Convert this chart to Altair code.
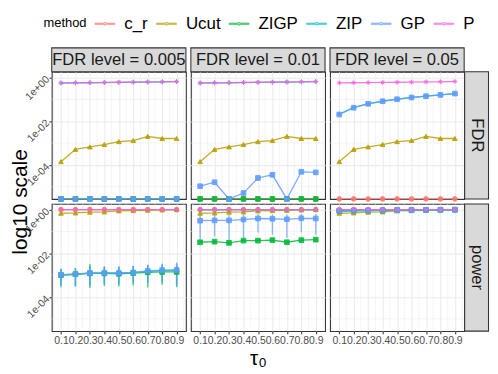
import altair as alt
import pandas as pd

# ---------------- data ----------------
taus = [0.1, 0.2, 0.3, 0.4, 0.5, 0.6, 0.7, 0.8, 0.9]
methods = ["c_r", "Ucut", "ZIGP", "ZIP", "GP", "P"]
colors = ["#F8766D", "#B79F00", "#00BA38", "#00BFC4", "#619CFF", "#F564E3"]
levels = ["FDR level = 0.005", "FDR level = 0.01", "FDR level = 0.05"]
metrics = ["FDR", "power"]
legend_title = "method"

# axis breaks
y_major = [1.0, 1e-2, 1e-4]
y_minor = [1e-1, 1e-3, 1e-5]
x_minor = [0.05, 0.15, 0.25, 0.35, 0.45, 0.55, 0.65, 0.75, 0.85, 0.95]

# FDR row
zeros = [0, 0, 0, 0, 0, 0, 0, 0, 0]
fdr_P = [0.56, 0.57, 0.58, 0.59, 0.60, 0.61, 0.62, 0.63, 0.65]
fdr_ZIP = [0.55, 0.56, 0.57, 0.58, 0.59, 0.60, 0.61, 0.62, 0.64]
fdr_Ucut = [1.4e-4, 5.1e-4, 6.6e-4, 8.5e-4, 1.15e-3, 1.29e-3, 2.0e-3, 1.6e-3, 1.6e-3]
fdr_GP_001 = [1.05e-5, 1.6e-5, 0, 5.1e-6, 2.5e-5, 3.5e-5, 0, 4.8e-5, 4.5e-5]
fdr_GP_005 = [0.020, 0.041, 0.062, 0.081, 0.100, 0.120, 0.138, 0.158, 0.182]
fdr_ZIP_005 = [0.021, 0.042, 0.063, 0.082, 0.101, 0.121, 0.139, 0.159, 0.183]

# power row
pow_P = [1.0, 1.0, 1.0, 1.0, 1.0, 1.0, 1.0, 1.0, 1.0]
pow_c_r = [0.995, 0.995, 0.996, 0.997, 0.998, 0.998, 0.999, 0.999, 1.0]
pow_Ucut = [0.68, 0.70, 0.76, 0.78, 0.87, 0.90, 0.93, 0.97, 1.0]
pow_GP_0005 = [1.05e-3, 1.12e-3, 1.26e-3, 1.26e-3, 1.26e-3, 1.32e-3, 1.58e-3, 1.70e-3, 1.74e-3]
pow_GP_0005_lo = [3.4e-4, 3.1e-4, 3.6e-4, 3.8e-4, 4.0e-4, 4.2e-4, 4.6e-4, 5.0e-4, 3.2e-4]
pow_GP_0005_hi = [2.0e-3, 2.2e-3, 2.6e-3, 2.5e-3, 2.6e-3, 2.7e-3, 3.0e-3, 3.4e-3, 3.8e-3]
pow_ZIP_0005 = [1.02e-3, 1.10e-3, 1.24e-3, 1.25e-3, 1.22e-3, 1.30e-3, 1.50e-3, 1.62e-3, 1.66e-3]
pow_ZIP_0005_lo = [3.6e-4, 3.4e-4, 3.3e-4, 4.0e-4, 3.8e-4, 4.0e-4, 4.4e-4, 4.6e-4, 3.6e-4]
pow_ZIP_0005_hi = [1.9e-3, 2.1e-3, 2.7e-3, 2.4e-3, 2.4e-3, 2.6e-3, 2.9e-3, 3.1e-3, 3.4e-3]
pow_ZIGP_0005 = [1.0e-3, 1.1e-3, 1.2e-3, 1.2e-3, 1.15e-3, 1.25e-3, 1.35e-3, 1.4e-3, 1.4e-3]
pow_ZIGP_0005_lo = [2.8e-4, 3.0e-4, 2.6e-4, 3.2e-4, 3.0e-4, 3.4e-4, 2.8e-4, 3.6e-4, 2.8e-4]
pow_ZIGP_0005_hi = [1.9e-3, 2.0e-3, 3.2e-3, 2.4e-3, 2.3e-3, 2.6e-3, 2.8e-3, 3.0e-3, 2.6e-3]
pow_GP_001 = [0.31, 0.32, 0.32, 0.35, 0.39, 0.38, 0.36, 0.40, 0.39]
pow_GP_001_lo = [0.045, 0.06, 0.035, 0.05, 0.09, 0.07, 0.05, 0.09, 0.07]
pow_GP_001_hi = [0.56, 0.56, 0.57, 0.59, 0.62, 0.61, 0.60, 0.63, 0.62]
pow_ZIGP_001 = [0.032, 0.034, 0.030, 0.038, 0.038, 0.040, 0.032, 0.040, 0.042]
pow_ZIP_001 = [0.98, 0.98, 0.985, 0.985, 0.99, 0.99, 0.99, 0.995, 0.995]
pow_GP_005 = [0.87, 0.89, 0.91, 0.93, 0.95, 0.96, 0.97, 0.98, 0.99]
pow_ZIP_005 = [0.88, 0.90, 0.92, 0.94, 0.95, 0.96, 0.97, 0.98, 0.99]
pow_ZIGP_005 = [0.86, 0.88, 0.90, 0.92, 0.94, 0.95, 0.96, 0.97, 0.98]

series = {
    ("FDR", 0): {"c_r": zeros, "Ucut": fdr_Ucut, "ZIGP": zeros, "ZIP": fdr_ZIP, "GP": zeros, "P": fdr_P},
    ("FDR", 1): {"c_r": zeros, "Ucut": fdr_Ucut, "ZIGP": zeros, "ZIP": fdr_ZIP, "GP": fdr_GP_001, "P": fdr_P},
    ("FDR", 2): {"c_r": zeros, "Ucut": fdr_Ucut, "ZIP": fdr_ZIP_005, "GP": fdr_GP_005, "P": fdr_P},
    ("power", 0): {"c_r": pow_c_r, "Ucut": pow_Ucut, "ZIGP": pow_ZIGP_0005, "ZIP": pow_ZIP_0005, "GP": pow_GP_0005, "P": pow_P},
    ("power", 1): {"c_r": pow_c_r, "Ucut": pow_Ucut, "ZIGP": pow_ZIGP_001, "ZIP": pow_ZIP_001, "GP": pow_GP_001, "P": pow_P},
    ("power", 2): {"c_r": pow_c_r, "Ucut": pow_Ucut, "ZIGP": pow_ZIGP_005, "ZIP": pow_ZIP_005, "GP": pow_GP_005, "P": pow_P},
}
errors = {
    ("power", 0, "ZIGP"): (pow_ZIGP_0005_lo, pow_ZIGP_0005_hi),
    ("power", 0, "ZIP"): (pow_ZIP_0005_lo, pow_ZIP_0005_hi),
    ("power", 0, "GP"): (pow_GP_0005_lo, pow_GP_0005_hi),
    ("power", 1, "GP"): (pow_GP_001_lo, pow_GP_001_hi),
}

# ---------------- tables ----------------
Y_MIN, Y_MAX = 2.75e-6, 1.816
W, H = 135, 128

rows, erows = [], []
for (metric, li), d in series.items():
    for mi, m in enumerate(methods):
        if m not in d:
            continue
        for t, v in zip(taus, d[m]):
            rows.append(dict(metric=metric, level=levels[li], method=m, order=mi,
                             tau=t, value=v, plot=max(v, Y_MIN)))
for (metric, li, m), (lo, hi) in errors.items():
    for t, a, b in zip(taus, lo, hi):
        erows.append(dict(metric=metric, level=levels[li], method=m, order=methods.index(m),
                          tau=t, plot=a, plot2=b))
df = pd.DataFrame(rows).sort_values(["order", "tau"])
edf = pd.DataFrame(erows).sort_values(["order", "tau"])

plus_path = "M-1,0L1,0M0,-1L0,1"
star_path = "M-1,0L1,0M0,-1L0,1M-0.7,-0.7L0.7,0.7M-0.7,0.7L0.7,-0.7"
shapes = ["circle", "triangle-up", "square", plus_path, "square", star_path]
legend_path = ("M-1,-0.07L1,-0.07L1,0.07L-1,0.07Z"
               "M-0.15,0A0.15,0.15,0,1,0,0.15,0A0.15,0.15,0,1,0,-0.15,0Z")

xscale = alt.Scale(domain=[0.036, 0.964], nice=False, zero=False)
yscale = alt.Scale(type="log", domain=[Y_MIN, Y_MAX], nice=False, clamp=True)
cscale = alt.Scale(domain=methods, range=colors)

legend = alt.Legend(
    orient="none", legendX=43, legendY=-59, direction="horizontal", title=None,
    labelFontSize=17, labelColor="black", labelOffset=9, columnPadding=6,
    symbolType=legend_path, symbolSize=400, symbolStrokeWidth=0.8, symbolOpacity=0.7,
    padding=0,
)


def panel(metric, li):
    r = metrics.index(metric)
    bottom = r == 1
    left = li == 0
    xa = dict(values=taus, format=".1f", labels=bottom, ticks=bottom,
              labelOverlap=False, labelFlush=False, grid=True, title=None)
    if bottom and li == 1:
        xa.update(title="τ₀", titleY=17, titleFontSize=21)
    ya = dict(values=y_major, labels=left, ticks=left, grid=True, title=None,
              labelExpr="'1e' + (datum.value >= 1 ? '+' : '-') + '0' + abs(round(log(datum.value) / LN10))",
              labelAngle=-45, labelAlign="right", labelBaseline="middle", labelOverlap=False)
    if left and r == 0:
        ya.update(title="log10 scale", titleX=-21, titleY=H + 2.5, titleFontSize=21,
                  titleAngle=-90, titleAlign="center", titleBaseline="bottom")
    X = alt.X("tau:Q", scale=xscale, axis=alt.Axis(**xa))
    Y = alt.Y("plot:Q", scale=yscale, axis=alt.Axis(**ya))
    color = alt.Color("method:N", scale=cscale, legend=legend)

    sub = df[(df.metric == metric) & (df.level == levels[li])]
    esub = edf[(edf.metric == metric) & (edf.level == levels[li])]

    layers = [
        alt.Chart(pd.DataFrame({"tau": x_minor})).mark_rule(color="#EBEBEB", strokeWidth=0.55).encode(x=X),
        alt.Chart(pd.DataFrame({"plot": y_minor})).mark_rule(color="#EBEBEB", strokeWidth=0.55).encode(y=Y),
    ]
    if len(esub):
        layers.append(
            alt.Chart(esub).mark_rule(strokeWidth=1.4, opacity=0.7).encode(
                x=X, y=Y, y2="plot2:Q", color=color, detail="method:N"))
    layers.append(
        alt.Chart(sub).mark_line(strokeWidth=1.3, opacity=0.85).encode(
            x=X, y=Y, color=color, order="tau:Q"))
    for m, shp in zip(methods, shapes):
        msub = sub[sub.method == m]
        if len(msub) == 0:
            continue
        layers.append(
            alt.Chart(msub).mark_point(filled=True, size=22, opacity=0.9, strokeWidth=1, shape=shp).encode(
                x=X, y=Y,
                fill=alt.Fill("method:N", scale=cscale, legend=None),
                stroke=alt.Stroke("method:N", scale=cscale, legend=None)))
    if r == 0 and li == 0:
        # legend title, placed beside the legend entries
        layers.append(
            alt.Chart(pd.DataFrame({"label": [legend_title]})).mark_text(
                fontSize=13, color="black", align="left", baseline="middle").encode(
                text="label:N", x=alt.value(-8.3), y=alt.value(-49.5)))
    if r == 0:
        strip = pd.DataFrame({"label": [levels[li]]})
        layers += [
            alt.Chart(strip).mark_rect(fill="#D9D9D9", stroke="#333333", strokeWidth=1.07).encode(
                x=alt.value(0), x2=alt.value(W), y=alt.value(-24), y2=alt.value(0)),
            alt.Chart(strip).mark_text(fontSize=16.7, color="#1A1A1A", align="center",
                                       baseline="middle").encode(
                text="label:N", x=alt.value(W / 2), y=alt.value(-11.5)),
        ]
    if li == 2:
        strip = pd.DataFrame({"label": [metric]})
        layers += [
            alt.Chart(strip).mark_rect(fill="#D9D9D9", stroke="#333333", strokeWidth=1.07).encode(
                x=alt.value(W + 0.5), x2=alt.value(W + 24.5), y=alt.value(0), y2=alt.value(H)),
            alt.Chart(strip).mark_text(fontSize=16.7, color="#1A1A1A", align="center",
                                       baseline="middle", angle=90).encode(
                text="label:N", x=alt.value(W + 12.5), y=alt.value(H / 2)),
        ]
    return alt.layer(*layers).properties(width=W, height=H)


panels = [panel(m, li) for m in metrics for li in range(3)]

chart = (
    alt.concat(*panels, columns=3, spacing=5, bounds="flush")
    .resolve_scale(color="shared", stroke="shared", fill="shared")
    .properties(padding={"left": 1, "top": 4, "right": 0, "bottom": 0})
    .configure(font="Liberation Sans")
    .configure_view(stroke="#333333", strokeWidth=1.07, fill="white")
    .configure_axis(
        labelFont="Liberation Sans", labelFontSize=10.5, labelColor="#4D4D4D",
        labelPadding=1.5, tickColor="#333333", tickSize=2.75, tickWidth=1.07,
        gridColor="#EBEBEB", gridWidth=1.07, domain=False,
        titleFont="Liberation Sans", titleFontWeight="normal", titleColor="black",
    )
)

chart.save("out.html", embed_options={"renderer": "svg", "actions": False})
